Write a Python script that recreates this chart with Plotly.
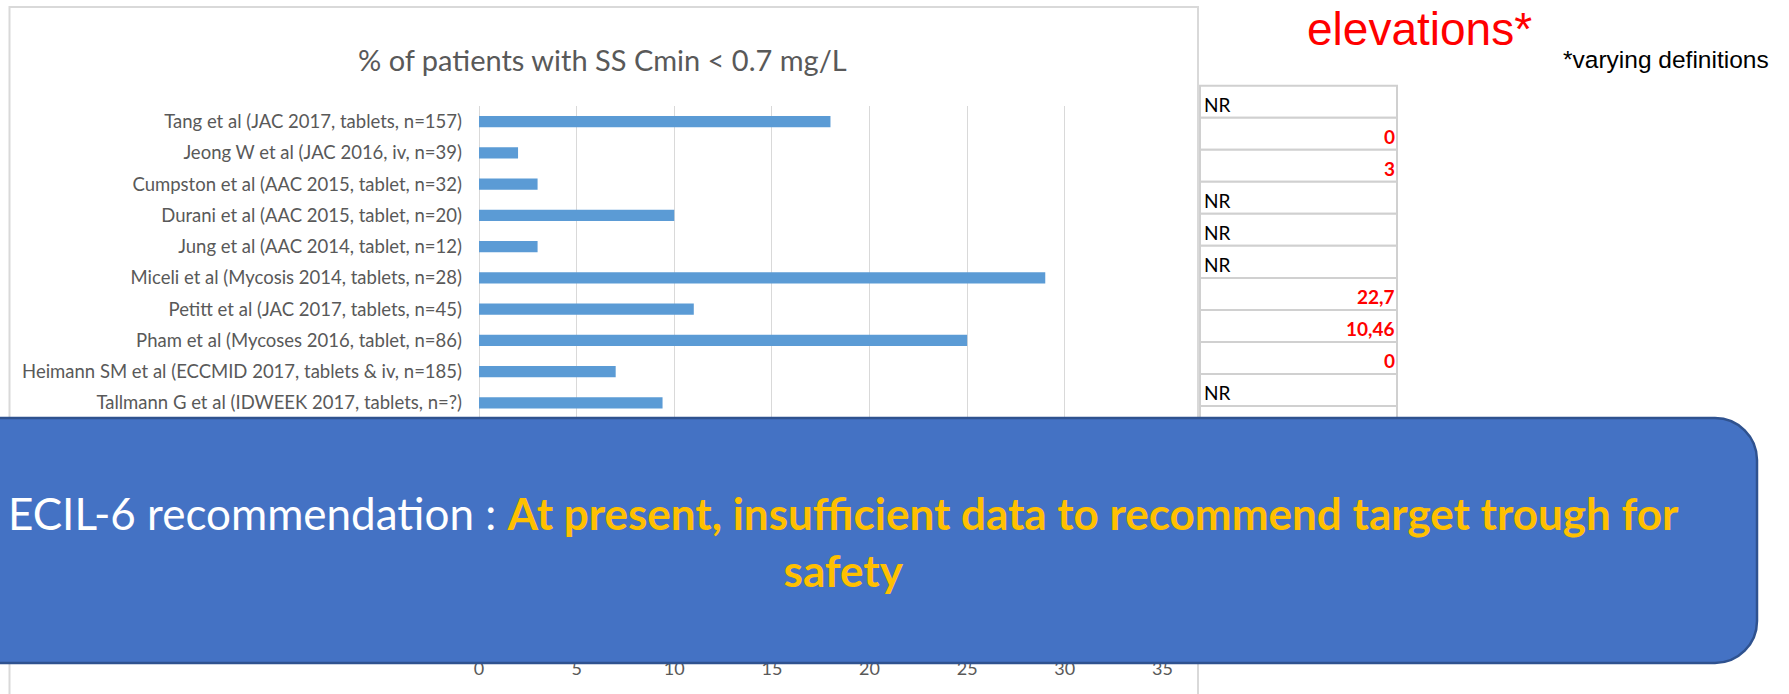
import plotly.graph_objects as go

# ---------------- data ----------------
studies = [
    "Tang et al (JAC 2017, tablets, n=157)",
    "Jeong W et al (JAC 2016, iv, n=39)",
    "Cumpston et al (AAC 2015, tablet, n=32)",
    "Durani et al (AAC 2015, tablet, n=20)",
    "Jung et al (AAC 2014, tablet, n=12)",
    "Miceli et al (Mycosis 2014, tablets, n=28)",
    "Petitt et al (JAC 2017, tablets, n=45)",
    "Pham et al (Mycoses 2016, tablet, n=86)",
    "Heimann SM et al (ECCMID 2017, tablets & iv, n=185)",
    "Tallmann G et al (IDWEEK 2017, tablets, n=?)",
]
pct_low_cmin = [18, 2, 3, 10, 3, 29, 11, 25, 7, 9.4]
liver_elev = ["NR", "0", "3", "NR", "NR", "NR", "22,7", "10,46", "0", "NR"]
x_ticks = [0, 5, 10, 15, 20, 25, 30, 35]

chart_title = "% of patients with SS Cmin < 0.7 mg/L"
header_text = "elevations*"
footnote_text = "*varying definitions"
rec_prefix = "ECIL-6 recommendation : "
rec_line1 = "At present, insufficient data to recommend target trough for"
rec_line2 = "safety"

# ---------------- geometry ----------------
W, H = 1789, 694
L, R, T, B = 479, 626, 106, 38
PW, PH = W - L - R, H - T - B


def px(x):
    return (x - L) / PW


def py(y):
    return (H - B - y) / PH


FONT = "Lato, 'Open Sans', sans-serif"
GRAY = "#595959"

fig = go.Figure()
fig.add_trace(go.Bar(
    y=studies, x=pct_low_cmin, orientation="h",
    marker=dict(color="#5B9BD5", line=dict(width=0)),
    width=0.36, hoverinfo="x+y",
))

shapes = []
annotations = []

# outer chart frame
shapes.append(dict(type="rect", xref="paper", yref="paper",
                   x0=px(9.5), x1=px(1198), y0=py(7), y1=py(720),
                   line=dict(color="#D9D9D9", width=2), fillcolor="rgba(0,0,0,0)",
                   layer="above"))

# table on the right
row_top0, row_h = 85.7, 32.03
tx0, tx1 = 1200, 1397
for i in range(len(liver_elev) + 1):
    top = row_top0 + i * row_h
    shapes.append(dict(type="rect", xref="paper", yref="paper",
                       x0=px(tx0), x1=px(tx1), y0=py(top + row_h), y1=py(top),
                       line=dict(color="#D0D0D0", width=2), fillcolor="white",
                       layer="above"))
for i, v in enumerate(liver_elev):
    yc = row_top0 + i * row_h + row_h / 2 + 2.5
    if v == "NR":
        annotations.append(dict(x=px(1202), y=py(yc), xref="paper", yref="paper",
                                text=v, showarrow=False, xanchor="left", yanchor="middle",
                                font=dict(family=FONT, size=19, color="black")))
    else:
        annotations.append(dict(x=px(1397), y=py(yc), xref="paper", yref="paper",
                                text="<b>" + v + "</b>", showarrow=False, xanchor="right",
                                yanchor="middle",
                                font=dict(family=FONT, size=19, color="#FF0000")))

# blue rounded box
bx0, bx1, by0, by1, r = -67, 1757, 418, 663, 42
k = 0.5523 * r


def P(x, y):
    return f"{px(x)},{py(y)}"


path = (f"M {P(bx0 + r, by0)} L {P(bx1 - r, by0)} "
        f"C {P(bx1 - r + k, by0)} {P(bx1, by0 + r - k)} {P(bx1, by0 + r)} "
        f"L {P(bx1, by1 - r)} "
        f"C {P(bx1, by1 - r + k)} {P(bx1 - r + k, by1)} {P(bx1 - r, by1)} "
        f"L {P(bx0 + r, by1)} "
        f"C {P(bx0 + r - k, by1)} {P(bx0, by1 - r + k)} {P(bx0, by1 - r)} "
        f"L {P(bx0, by0 + r)} "
        f"C {P(bx0, by0 + r - k)} {P(bx0 + r - k, by0)} {P(bx0 + r, by0)} Z")
shapes.append(dict(type="path", xref="paper", yref="paper", path=path,
                   fillcolor="#4472C4", line=dict(color="#2F528F", width=2.5),
                   layer="above"))

# title
annotations.append(dict(x=px(602), y=py(60), xref="paper", yref="paper",
                        text=chart_title, showarrow=False, xanchor="center", yanchor="middle",
                        font=dict(family=FONT, size=29, color=GRAY)))
# header fragment + footnote
annotations.append(dict(x=px(1305), y=py(29.5), xref="paper", yref="paper",
                        text=header_text, showarrow=False, xanchor="left", yanchor="middle",
                        font=dict(family="'Liberation Sans', Arial, sans-serif", size=46,
                                  color="#FF0000")))
annotations.append(dict(x=px(1561), y=py(59.5), xref="paper", yref="paper",
                        text=footnote_text, showarrow=False, xanchor="left", yanchor="middle",
                        font=dict(family="'Liberation Sans', Arial, sans-serif", size=24.5,
                                  color="black")))
# recommendation text
rec_html = (rec_prefix + "<span style='color:#FFC000'><b>" + rec_line1 +
            "</b></span><br><span style='color:#FFC000'><b>" + rec_line2 + "</b></span>")
annotations.append(dict(x=px(843), y=py(541), xref="paper", yref="paper",
                        text=rec_html, showarrow=False, xanchor="center", yanchor="middle",
                        align="center",
                        font=dict(family=FONT, size=44, color="white")))

fig.update_layout(
    width=W, height=H,
    margin=dict(l=L, r=R, t=T, b=B, pad=0),
    paper_bgcolor="white", plot_bgcolor="white",
    showlegend=False,
    shapes=shapes, annotations=annotations,
    xaxis=dict(range=[0, 35.03], tickvals=x_ticks, showgrid=True, gridcolor="#D9D9D9",
               gridwidth=1, zeroline=True, zerolinecolor="#D9D9D9", zerolinewidth=1,
               showline=False, ticks="", ticklabelstandoff=0,
               tickfont=dict(family=FONT, size=18, color=GRAY), automargin=False,
               fixedrange=True),
    yaxis=dict(range=[17.1, -0.5], type="category", showgrid=False, zeroline=False,
               showline=False, ticks="", ticklabelstandoff=16,
               tickfont=dict(family=FONT, size=18.5, color=GRAY), automargin=False,
               fixedrange=True),
)

fig.write_html("out.html", include_plotlyjs=True, config={"displayModeBar": False})
